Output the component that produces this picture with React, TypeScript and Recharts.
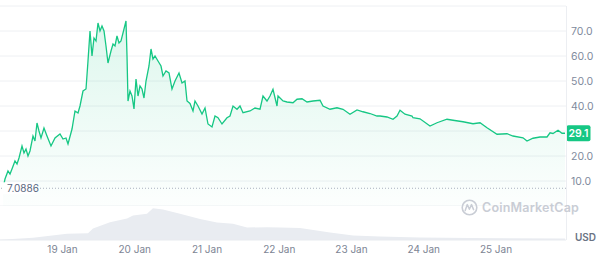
import { ComposedChart, Area, XAxis, YAxis, CartesianGrid, ReferenceLine } from 'recharts'

// hours since 18 Jan 00:00
const hours = [
  4.24, 4.9, 5.9, 6.56, 7.22, 8.22, 8.89, 9.55, 10.55, 11.21, 11.88, 12.54, 13.2, 14.2, 14.86, 15.53,
  16.19, 16.86, 17.85, 18.85, 20.18, 21.51, 23.17, 24.17, 25.16, 25.83, 27.16, 28.15, 29.15, 29.81,
  30.81, 31.81, 32.47, 33.14, 33.8, 34.46, 35.13, 35.79, 36.46, 37.12, 37.79, 38.45, 39.11, 40.11,
  40.78, 41.44, 42.1, 42.77, 43.43, 44.43, 45.09, 45.43, 45.76, 46.42, 47.09, 47.75, 48.42, 49.08,
  49.74, 50.41, 51.07, 51.74, 52.73, 53.4, 54.06, 54.73, 55.72, 56.72, 57.38, 58.38, 59.38, 60.37,
  61.37, 62.7, 63.7, 64.69, 65.36, 66.35, 67.35, 68.01, 69.01, 70.34, 71.34, 72.33, 73.66, 74.66,
  75.65, 76.98, 78.64, 79.64, 80.64, 81.97, 82.96, 83.96, 86.28, 87.94, 89.61, 90.6, 91.93, 92.93,
  93.92, 95.25, 95.59, 97.25, 98.57, 100.57, 101.9, 103.56, 105.22, 107.21, 109.54, 110.53, 112.86,
  115.18, 117.18, 119.5, 121.83, 123.82, 126.15, 128.47, 129.47, 131.79, 133.79, 135.11, 136.11,
  137.77, 140.1, 140.43, 142.75, 146.08, 148.4, 151.72, 153.72, 157.04, 160.36, 162.69, 165.01,
  168.33, 171.65, 173.65, 176.97, 178.3, 180.29, 182.62, 184.94, 185.94, 186.93, 188.6, 189.92, 190.92,
]
const prices = [
  7.09, 10.8, 14, 12.8, 14.8, 18, 16.8, 19.2, 24, 21.2, 22.8, 20, 22, 28, 26, 33.2,
  30, 27.2, 31.2, 28, 24, 27.2, 28.8, 26.8, 27.2, 24.8, 30.8, 38, 37.2, 40,
  46, 46.8, 58, 70, 60, 67.2, 66, 73.2, 70, 72, 70, 64, 57.2, 62,
  64.8, 64, 68, 65.2, 66, 70.8, 74, 60, 42, 46, 44, 38.8, 50.8, 44,
  48, 46.8, 43.2, 50, 56, 62.8, 58.8, 60, 58, 56, 52, 54, 53.2, 46.8,
  50, 53.2, 49.2, 50, 42, 41, 38, 42, 40, 36.8, 39.2, 32.8, 31.6, 36,
  35.3, 32.8, 35.3, 36, 40, 38.7, 40, 37.3, 38, 39.2, 38.7, 44, 42, 44,
  46.7, 40, 44, 42, 41.6, 41.3, 42.7, 42.9, 41.6, 42, 42.3, 40, 38.7,
  39.3, 38.7, 36.7, 38.4, 37.7, 37, 36, 36, 35.6, 34.7, 36, 38.3,
  36.7, 36, 35.3, 34.9, 32, 33.3, 34.7, 34.3, 33.7, 32.9, 33.3, 31.3,
  28.7, 28.9, 28, 27.3, 26, 27.1, 27.6, 27.6, 29.3, 29, 30.3, 29.1, 29.1,
]

const volHours = [
  3.24, 14.2, 25.5, 32.47, 34.13, 39.78, 45.43, 47.42, 52.07, 54.06, 57.38, 63.03, 69.68, 75.32,
  80.64, 85.29, 91.93, 96.25, 102.9, 112.86, 120.5, 129.47, 142.75, 159.37, 190.92,
]
const volumes = [
  0.2, 2.2, 6.2, 6.8, 11.5, 17.8, 21.5, 24.5, 26.2, 31.8, 30.5, 26.2, 21, 17.5,
  16.2, 12.5, 12.8, 12.5, 12, 7.5, 4.5, 3.5, 2.5, 2, 1.5,
]

const dayTicks = [24, 48, 72, 96, 120, 144, 168]
const dayLabels = ['19 Jan', '20 Jan', '21 Jan', '22 Jan', '23 Jan', '24 Jan', '25 Jan']
const priceTicks = [0, 10, 20, 30, 40, 50, 60, 70, 80]
const lowPrice = 7.0886
const lastPrice = 29.1

const priceData = hours.map((h, i) => ({ h, price: prices[i] }))
const volData = volHours.map((h, i) => ({ h, vol: volumes[i] }))

const X_DOMAIN = [3.24, 191.25]
const GREEN = '#16c784'
const GRID = '#eef0f3'
const FONT = 'Inter, "Noto Sans", sans-serif'

function LowLabel({ viewBox }: any) {
  const { x, y } = viewBox
  return (
    <g>
      <rect x={x + 2} y={y - 6} width={33} height={12} fill="#fff" />
      <text x={x + 7} y={y} dy="0.35em" fontSize={10} fill="#58667e" fontFamily={FONT}>
        {lowPrice.toFixed(4)}
      </text>
    </g>
  )
}

function LastBadge({ viewBox }: any) {
  const { x, y, width } = viewBox
  const left = x + width + 0.5
  return (
    <g>
      <rect x={left} y={y - 8} width={24} height={16} rx={2} fill={GREEN} />
      <text x={left + 12} y={y} dy="0.35em" textAnchor="middle" fontSize={10.5} fontWeight={600} fill="#fff" fontFamily={FONT}>
        {lastPrice.toFixed(1)}
      </text>
    </g>
  )
}

export default function App() {
  return (
    <div style={{ position: 'absolute', left: 0, top: 0, width: 601, height: 256, background: '#fff', fontFamily: FONT }}>
      <ComposedChart width={601} height={206} data={priceData} margin={{ top: 6, right: 0, bottom: 0, left: 0 }}>
        <defs>
          <linearGradient id="priceGrad" x1="0" y1="0" x2="0" y2="1">
            <stop offset="0%" stopColor={GREEN} stopOpacity={0.24} />
            <stop offset="100%" stopColor={GREEN} stopOpacity={0.02} />
          </linearGradient>
        </defs>
        <CartesianGrid vertical={false} stroke={GRID} />
        <XAxis dataKey="h" type="number" domain={X_DOMAIN} allowDataOverflow hide />
        <YAxis
          orientation="right"
          width={35}
          domain={[0, 80]}
          ticks={priceTicks}
          interval={0}
          axisLine={false}
          tickLine={false}
          tickSize={3}
          tickMargin={2}
          tick={{ fill: '#808a9d', fontSize: 10.5, textAnchor: 'start' }}
          // 30 is hidden under the last-price badge
          tickFormatter={(v: number) => (v === 0 || v === 80 || v === 30 ? '' : v.toFixed(1))}
        />
        <ReferenceLine y={lowPrice} stroke="#a9b1bf" strokeDasharray="1 2" label={<LowLabel />} />
        <Area
          type="linear"
          dataKey="price"
          stroke={GREEN}
          strokeWidth={1.3}
          fill="url(#priceGrad)"
          dot={false}
          activeDot={false}
          isAnimationActive={false}
        />
        <ReferenceLine y={lastPrice} stroke="none" label={<LastBadge />} />
      </ComposedChart>
      <div style={{ position: 'absolute', left: 0, top: 206 }}>
        <ComposedChart width={601} height={50} data={volData} margin={{ top: 0, right: 0, bottom: 0, left: 0 }}>
          <XAxis
            dataKey="h"
            type="number"
            domain={X_DOMAIN}
            allowDataOverflow
            ticks={dayTicks}
            interval={0}
            height={16}
            axisLine={{ stroke: '#e8ebef' }}
            tickLine={false}
            tickSize={6}
            tickMargin={0}
            tick={{ fill: '#7d8594', fontSize: 10 }}
            tickFormatter={(v: number) => dayLabels[dayTicks.indexOf(v)]}
          />
          <YAxis orientation="right" width={35} domain={[0, 34]} tick={false} axisLine={false} tickLine={false} />
          <Area
            type="linear"
            dataKey="vol"
            stroke="none"
            fill="#e9ecf1"
            fillOpacity={1}
            dot={false}
            activeDot={false}
            isAnimationActive={false}
          />
        </ComposedChart>
      </div>
      <div style={{ position: 'absolute', left: 566, top: 6, width: 1, height: 234, background: '#eceef2' }} />
      <div style={{ position: 'absolute', left: 461, top: 199, display: 'flex', alignItems: 'center', color: '#c9cdd5' }}>
        <svg width={17} height={17} viewBox="0 0 17 17">
          <circle cx={8.5} cy={8.5} r={7.3} fill="none" stroke="#c9cdd5" strokeWidth={1.6} />
          <path d="M4.2 11.5 L6.3 5.6 L8.4 10.2 L10.5 5.6 L12.6 10.6" fill="none" stroke="#c9cdd5" strokeWidth={1.5} strokeLinejoin="round" strokeLinecap="round" />
        </svg>
        <span style={{ marginLeft: 4, fontSize: 12.5, fontWeight: 600, letterSpacing: 0.2 }}>CoinMarketCap</span>
      </div>
      <div style={{ position: 'absolute', left: 575, top: 231, fontSize: 10, fontWeight: 600, color: '#6b7384' }}>USD</div>
    </div>
  )
}
